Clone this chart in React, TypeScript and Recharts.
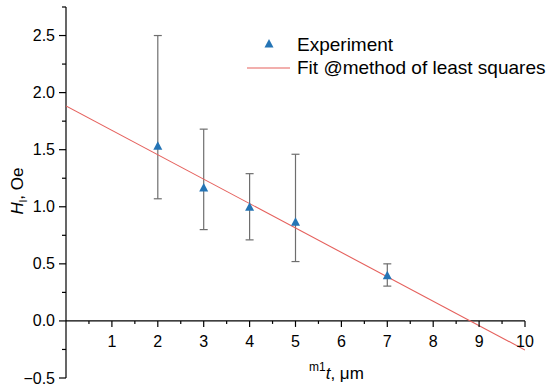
import { ScatterChart, Scatter, XAxis, YAxis, ErrorBar, ReferenceLine } from 'recharts';

// experiment: layer thickness (um) vs field H_l (Oe)
const thickness = [2, 3, 4, 5, 7];
const field = [1.53, 1.165, 0.995, 0.865, 0.395];
const fieldLow = [1.07, 0.8, 0.71, 0.52, 0.305];
const fieldHigh = [2.5, 1.68, 1.29, 1.46, 0.5];

// least squares fit, end points
const fitX = [0, 10];
const fitY = [1.883, -0.255];

const xTicks = [0, 0.5, 1, 1.5, 2, 2.5, 3, 3.5, 4, 4.5, 5, 5.5, 6, 6.5, 7, 7.5, 8, 8.5, 9, 9.5, 10];
const yTicks = [-0.5, -0.25, 0, 0.25, 0.5, 0.75, 1, 1.25, 1.5, 1.75, 2, 2.25, 2.5, 2.75];

const W = 550;
const H = 391;
const TOP = 7;
const BOTTOM = 378;
const Y_MIN = -0.5;
const Y_MAX = 2.75;
const Y0 = TOP + ((Y_MAX - 0) / (Y_MAX - Y_MIN)) * (BOTTOM - TOP);

const FONT = '"Liberation Sans", Arial, Helvetica, sans-serif';
const BLUE = '#2474b5';
const RED = '#e5605c';

const expData = thickness.map((x, i) => ({
  x,
  y: field[i],
  err: [field[i] - fieldLow[i], fieldHigh[i] - field[i]],
}));
const fitData = fitX.map((x, i) => ({ x, y: fitY[i] }));

const Triangle = (p: any) => (
  <polygon
    points={`${p.cx},${p.cy - 5} ${p.cx - 4.5},${p.cy + 3.5} ${p.cx + 4.5},${p.cy + 3.5}`}
    fill={BLUE}
  />
);

const XTick = (p: any) => {
  const v = p.payload.value;
  if (v === 0) return <g />;
  const major = Number.isInteger(v);
  return (
    <g>
      <line x1={p.x} x2={p.x} y1={Y0} y2={Y0 + (major ? 6 : 3)} stroke="#000" strokeWidth={1.2} />
      {major && (
        <text x={p.x} y={Y0 + 26} textAnchor="middle" fontSize={16} fontFamily={FONT} fill="#000">
          {v}
        </text>
      )}
    </g>
  );
};

const YTick = (p: any) => {
  const v = p.payload.value;
  const major = Math.abs(v * 2 - Math.round(v * 2)) < 1e-9;
  const label = (v < 0 ? '\u2212' : '') + Math.abs(v).toFixed(1);
  return (
    <g>
      <line x1={p.x - (major ? 7 : 4)} x2={p.x} y1={p.y} y2={p.y} stroke="#000" strokeWidth={1.2} />
      {major && (
        <text x={p.x - 11} y={p.y + 5.5} textAnchor="end" fontSize={16} fontFamily={FONT} fill="#000">
          {label}
        </text>
      )}
    </g>
  );
};

export default function App() {
  return (
    <div style={{ position: 'relative', width: W, height: H, background: '#fff' }}>
      <style>{'body{margin:0}'}</style>
      <ScatterChart width={W} height={H} margin={{ top: TOP, right: 25, bottom: 0, left: 6 }}>
        <XAxis
          type="number"
          dataKey="x"
          domain={[0, 10]}
          ticks={xTicks}
          interval={0}
          height={H - BOTTOM}
          axisLine={false}
          tickLine={false}
          tickSize={0}
          tickMargin={0}
          tick={XTick}
          allowDataOverflow
        />
        <YAxis
          type="number"
          dataKey="y"
          domain={[Y_MIN, Y_MAX]}
          ticks={yTicks}
          interval={0}
          width={60}
          axisLine={{ stroke: '#000', strokeWidth: 1.2 }}
          tickLine={false}
          tickSize={0}
          tickMargin={0}
          tick={YTick}
          allowDataOverflow
        />
        <ReferenceLine y={0} stroke="#000" strokeWidth={1.2} />
        <Scatter
          data={fitData}
          line={{ stroke: RED, strokeWidth: 1.1 }}
          lineType="joint"
          shape={() => <g />}
          isAnimationActive={false}
        />
        <Scatter data={expData} shape={Triangle} isAnimationActive={false}>
          <ErrorBar dataKey="err" direction="y" width={4} stroke="#6e6e6e" strokeWidth={1.2} isAnimationActive={false} />
        </Scatter>
      </ScatterChart>
      <svg
        width={W}
        height={H}
        style={{ position: 'absolute', left: 0, top: 0, pointerEvents: 'none' }}
        fontFamily={FONT}
      >
        {/* legend */}
        <polygon points="269,39 264.5,47.5 273.5,47.5" fill={BLUE} />
        <text x={297} y={51} fontSize={19} fill="#000">Experiment</text>
        <line x1={247} x2={290} y1={68} y2={68} stroke={RED} strokeWidth={1.1} />
        <text x={297} y={74} fontSize={19} fill="#000">Fit @method of least squares</text>
        {/* axis titles */}
        <text x={309} y={379} fontSize={17} fill="#000">
          <tspan fontSize={12} dy={-8}>m1</tspan>
          <tspan fontStyle="italic" dy={8}>t</tspan>
          <tspan>, μm</tspan>
        </text>
        <text x={23} y={191} fontSize={17} fill="#000" textAnchor="middle" transform="rotate(-90 23 191)">
          <tspan fontStyle="italic">H</tspan>
          <tspan fontSize={11} dy={4}>l</tspan>
          <tspan dy={-4}>, Oe</tspan>
        </text>
      </svg>
    </div>
  );
}
